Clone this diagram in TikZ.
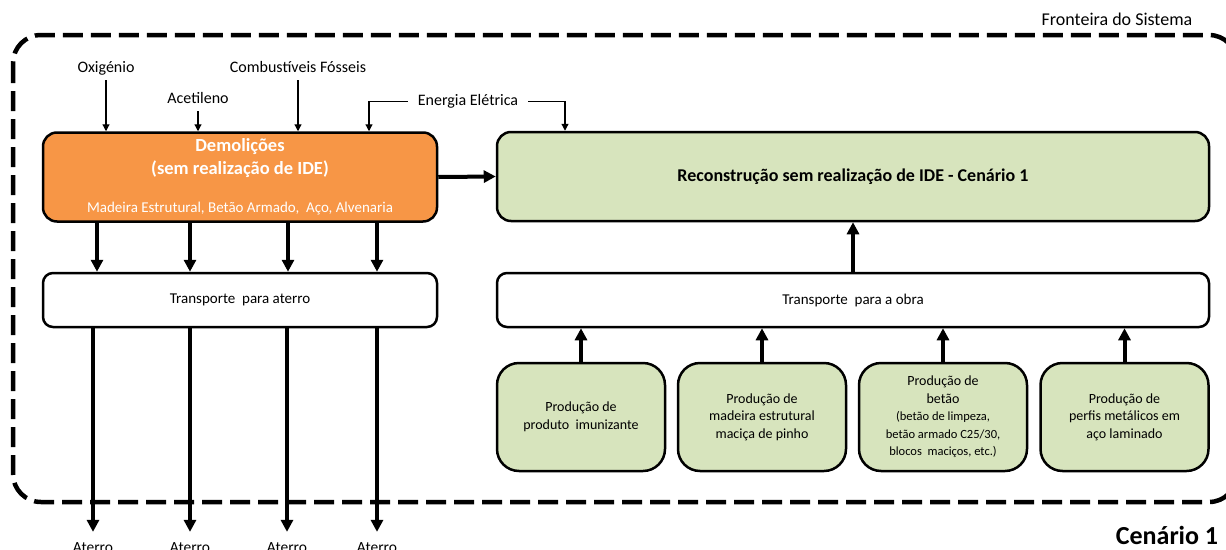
\documentclass[tikz,border=0pt]{standalone}
\usepackage{fontspec}
\setmainfont{Carlito}
\usetikzlibrary{arrows.meta,positioning}
\definecolor{demolOrange}{HTML}{F79646}
\definecolor{reconGreen}{HTML}{D7E4BD}
\newcommand{\BoxFont}{\fontsize{14}{17.5}\selectfont}
\newcommand{\NoteFont}{\fontsize{12.5}{16}\selectfont}

\begin{document}
\begin{tikzpicture}[x=1pt, y=-1pt,
        procbox/.style={draw=black, line width=2.5pt, align=center, inner sep=0pt},
        demolbox/.style={procbox, fill=demolOrange, text=white, rounded corners=14pt, minimum width=394, minimum height=89, font=\bfseries\fontsize{18.5}{23}\selectfont},
        reconbox/.style={procbox, fill=reconGreen, rounded corners=14pt, minimum width=712, minimum height=89, font=\bfseries\fontsize{18}{22}\selectfont},
        transbox/.style={procbox, fill=white, rounded corners=10pt, minimum height=54, font=\fontsize{15}{18}\selectfont},
        prodbox/.style={procbox, fill=reconGreen, rounded corners=22pt, minimum width=168, minimum height=108, font=\BoxFont},
        inlabel/.style={anchor=base, inner sep=4pt, text depth=4pt, font=\fontsize{16}{19}\selectfont},
        aterro/.style={anchor=base, inner xsep=2pt, inner ysep=10pt, font=\fontsize{15.5}{18}\selectfont},
        bigarrow/.style={-{Triangle[length=12pt, width=12pt]}, line width=4pt},
        thinarrow/.style={-{Triangle[length=7pt, width=7pt]}, line width=1.2pt},
        boundary/.style={dash pattern=on 20pt off 8pt, line width=4.5pt, rounded corners=28pt},
    ]
    \useasboundingbox (0,0) rectangle (1226,549);

    % system boundary
    \draw[boundary] (13,35) rectangle (1237,502);
    \node[anchor=base, font=\fontsize{18}{22}\selectfont] (front) at (1117,25) {Fronteira do Sistema};
    \node[anchor=base, font=\bfseries\fontsize{26}{30}\selectfont] (cenario) at (1167,544) {Cenário 1};

    % main processes
    \node[demolbox] (demol) at (240,177) {Demolições\\(sem realização de IDE)\\[15pt]{\mdseries\fontsize{15}{18}\selectfont Madeira Estrutural, Betão Armado,\ \ Aço, Alvenaria}};
    \node[reconbox] (recon) at (853,176.5) {Reconstrução sem realização de IDE - Cenário 1};
    \node[transbox, minimum width=394] (transAt) at (240,300) {Transporte\ \ para aterro};
    \node[transbox, minimum width=712] (transOb) at (853,300) {Transporte\ \ para a obra};

    % material production
    \node[prodbox] (prodImu) at (581,417) {Produção de\\produto\ \ imunizante};
    \node[prodbox] (prodMad) at (762,417) {Produção de\\madeira estrutural\\maciça de pinho};
    \node[prodbox] (prodBet) at (943,417) {Produção de\\betão\\{\NoteFont (betão de limpeza,}\\{\NoteFont betão armado C25/30,}\\{\NoteFont blocos\ \ maciços, etc.)}};
    \node[prodbox] (prodAco) at (1124.5,417) {Produção de\\perfis metálicos em\\aço laminado};

    % inputs
    \node[inlabel] (oxig) at (106,72) {Oxigénio};
    \node[inlabel] (acet) at (198,103) {Acetileno};
    \node[inlabel] (comb) at (298,72) {Combustíveis Fósseis};
    \node[inlabel, inner xsep=10pt] (energ) at (468,105) {Energia Elétrica};
    \coordinate (eL) at (369,0);
    \coordinate (eR) at (565,0);
    \foreach \n in {oxig,acet,comb}
        \draw[thinarrow] (\n.south) -- (\n.south |- demol.north);
    \draw[thinarrow] (energ.west) -| (eL |- demol.north);
    \draw[thinarrow] (energ.east) -| (eR |- recon.north);

    % demolition flows
    \foreach \x [count=\i] in {97,190,288,377}
        \coordinate (dn\i) at (\x,0);
    \foreach \i in {1,...,4}
        \draw[bigarrow] (demol.south -| dn\i) -- (transAt.north -| dn\i);
    \foreach \x [count=\i] in {93,190,287,377}
        \node[aterro] (at\i) at (\x,552) {Aterro};
    \foreach \i in {1,...,4}
        \draw[bigarrow] (transAt.south -| at\i) -- (at\i.north);
    \draw[bigarrow] (demol.east) -- (recon.west);

    % reconstruction flows
    \foreach \n in {prodImu,prodMad,prodBet,prodAco}
        \draw[bigarrow] (\n.north) -- (\n.north |- transOb.south);
    \draw[bigarrow] (transOb.north) -- (recon.south);
\end{tikzpicture}
\end{document}
